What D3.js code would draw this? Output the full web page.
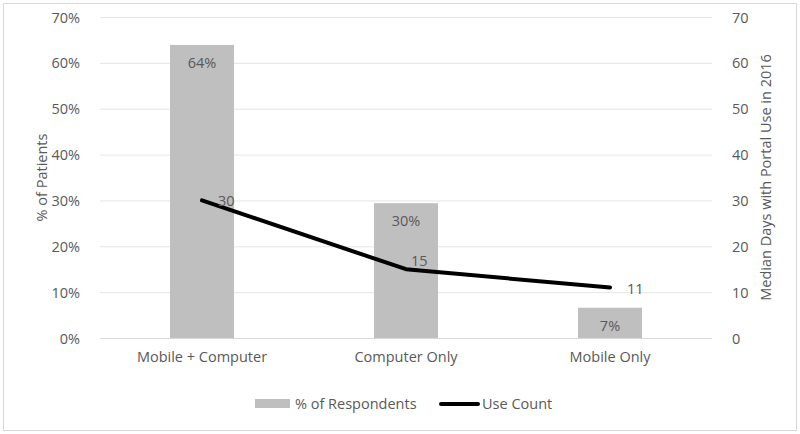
<!DOCTYPE html>
<html>
<head>
<meta charset="utf-8">
<script src="https://cdn.jsdelivr.net/npm/d3@7"></script>
<style>
  body { margin: 0; background: #fff; }
  svg text { font-family: "Open Sans", "Noto Sans", sans-serif; fill: #595959; font-size: 14.5px; }
</style>
</head>
<body>
<div id="chart"></div>
<script>
// data
var categories = ["Mobile + Computer", "Computer Only", "Mobile Only"];
var respondents = [63.9, 29.4, 6.6];          // % of respondents
var respondentLabels = ["64%", "30%", "7%"];
var useCount = [30, 15, 11];                   // median days
var leftTicks = [0, 10, 20, 30, 40, 50, 60, 70];
var rightTicks = [0, 10, 20, 30, 40, 50, 60, 70];

var W = 800, H = 434;
var margin = {left: 100, right: 88, top: 17, bottom: 96};

// where the line labels sit relative to their point (Excel had them nudged)
var lineLabelOffset = [[16, 0], [5, -8], [17, 1]];

var svg = d3.select("#chart").append("svg")
    .attr("width", W)
    .attr("height", H);

// outer frame
svg.append("rect")
    .attr("x", 3.5).attr("y", 3.5)
    .attr("width", W - 7).attr("height", H - 7)
    .attr("fill", "none").attr("stroke", "#d9d9d9");

var x = d3.scaleBand()
    .domain(categories)
    .range([margin.left, W - margin.right]);

var yL = d3.scaleLinear().domain([0, 70]).range([H - margin.bottom, margin.top]);
var yR = d3.scaleLinear().domain([0, 70]).range([H - margin.bottom, margin.top]);

// gridlines
svg.append("g").selectAll("line")
    .data(leftTicks.filter(function(d){ return d > 0; }))
    .join("line")
    .attr("x1", margin.left).attr("x2", W - margin.right)
    .attr("y1", function(d){ return yL(d) + 0.5; })
    .attr("y2", function(d){ return yL(d) + 0.5; })
    .attr("stroke", "#e6e6e6");

// bars
var barW = 64;
svg.append("g").selectAll("rect")
    .data(respondents)
    .join("rect")
    .attr("x", function(d, i){ return x(categories[i]) + x.bandwidth()/2 - barW/2; })
    .attr("y", function(d){ return yL(d); })
    .attr("width", barW)
    .attr("height", function(d){ return yL(0) - yL(d); })
    .attr("fill", "#bfbfbf");

// baseline
svg.append("line")
    .attr("x1", margin.left).attr("x2", W - margin.right)
    .attr("y1", yL(0) + 0.5).attr("y2", yL(0) + 0.5)
    .attr("stroke", "#d9d9d9");

// bar labels
svg.append("g").selectAll("text")
    .data(respondents)
    .join("text")
    .attr("x", function(d, i){ return x(categories[i]) + x.bandwidth()/2; })
    .attr("y", function(d){ return yL(d) + 23; })
    .attr("text-anchor", "middle")
    .text(function(d, i){ return respondentLabels[i]; });

// line
var line = d3.line()
    .x(function(d, i){ return x(categories[i]) + x.bandwidth()/2; })
    .y(function(d){ return yR(d); });

svg.append("path")
    .datum(useCount)
    .attr("d", line)
    .attr("fill", "none")
    .attr("stroke", "#000")
    .attr("stroke-width", 4)
    .attr("stroke-linejoin", "round")
    .attr("stroke-linecap", "round");

// line labels
svg.append("g").selectAll("text")
    .data(useCount)
    .join("text")
    .attr("x", function(d, i){ return x(categories[i]) + x.bandwidth()/2 + lineLabelOffset[i][0]; })
    .attr("y", function(d, i){ return yR(d) + lineLabelOffset[i][1]; })
    .attr("dy", "0.35em")
    .text(function(d){ return d; });

// left axis
var axL = svg.append("g")
    .attr("transform", "translate(" + (margin.left - 17) + ",0)")
    .call(d3.axisLeft(yL).tickValues(leftTicks).tickSize(0).tickFormat(function(d){ return d + "%"; }));
axL.select(".domain").remove();
axL.selectAll("text").attr("dy", "0.35em").style("font-size", null);

// right axis
var axR = svg.append("g")
    .attr("transform", "translate(" + (W - margin.right + 17) + ",0)")
    .call(d3.axisRight(yR).tickValues(rightTicks).tickSize(0));
axR.select(".domain").remove();
axR.selectAll("text").attr("dy", "0.35em");
svg.selectAll(".tick text").attr("font-size", null).attr("font-family", null);
axL.attr("font-size", null).attr("font-family", null);
axR.attr("font-size", null).attr("font-family", null);

// category axis
svg.append("g").selectAll("text")
    .data(categories)
    .join("text")
    .attr("x", function(d){ return x(d) + x.bandwidth()/2; })
    .attr("y", yL(0) + 24)
    .attr("text-anchor", "middle")
    .text(function(d){ return d; });

// axis titles
var midY = (yL(0) + yL(70)) / 2;
svg.append("text")
    .attr("transform", "translate(47," + midY + ") rotate(-90)")
    .attr("text-anchor", "middle")
    .text("% of Patients");

svg.append("text")
    .attr("transform", "translate(771," + midY + ") rotate(-90)")
    .attr("text-anchor", "middle")
    .text("Median Days with Portal Use in 2016");

// legend
var lg = svg.append("g").attr("transform", "translate(0,404)");
lg.append("rect").attr("x", 255).attr("y", -5).attr("width", 35).attr("height", 9).attr("fill", "#bfbfbf");
lg.append("text").attr("x", 295).attr("y", 5).text("% of Respondents");
lg.append("line").attr("x1", 441).attr("x2", 478).attr("y1", 0).attr("y2", 0)
    .attr("stroke", "#000").attr("stroke-width", 4).attr("stroke-linecap", "round");
lg.append("text").attr("x", 482).attr("y", 5).text("Use Count");
</script>
</body>
</html>
